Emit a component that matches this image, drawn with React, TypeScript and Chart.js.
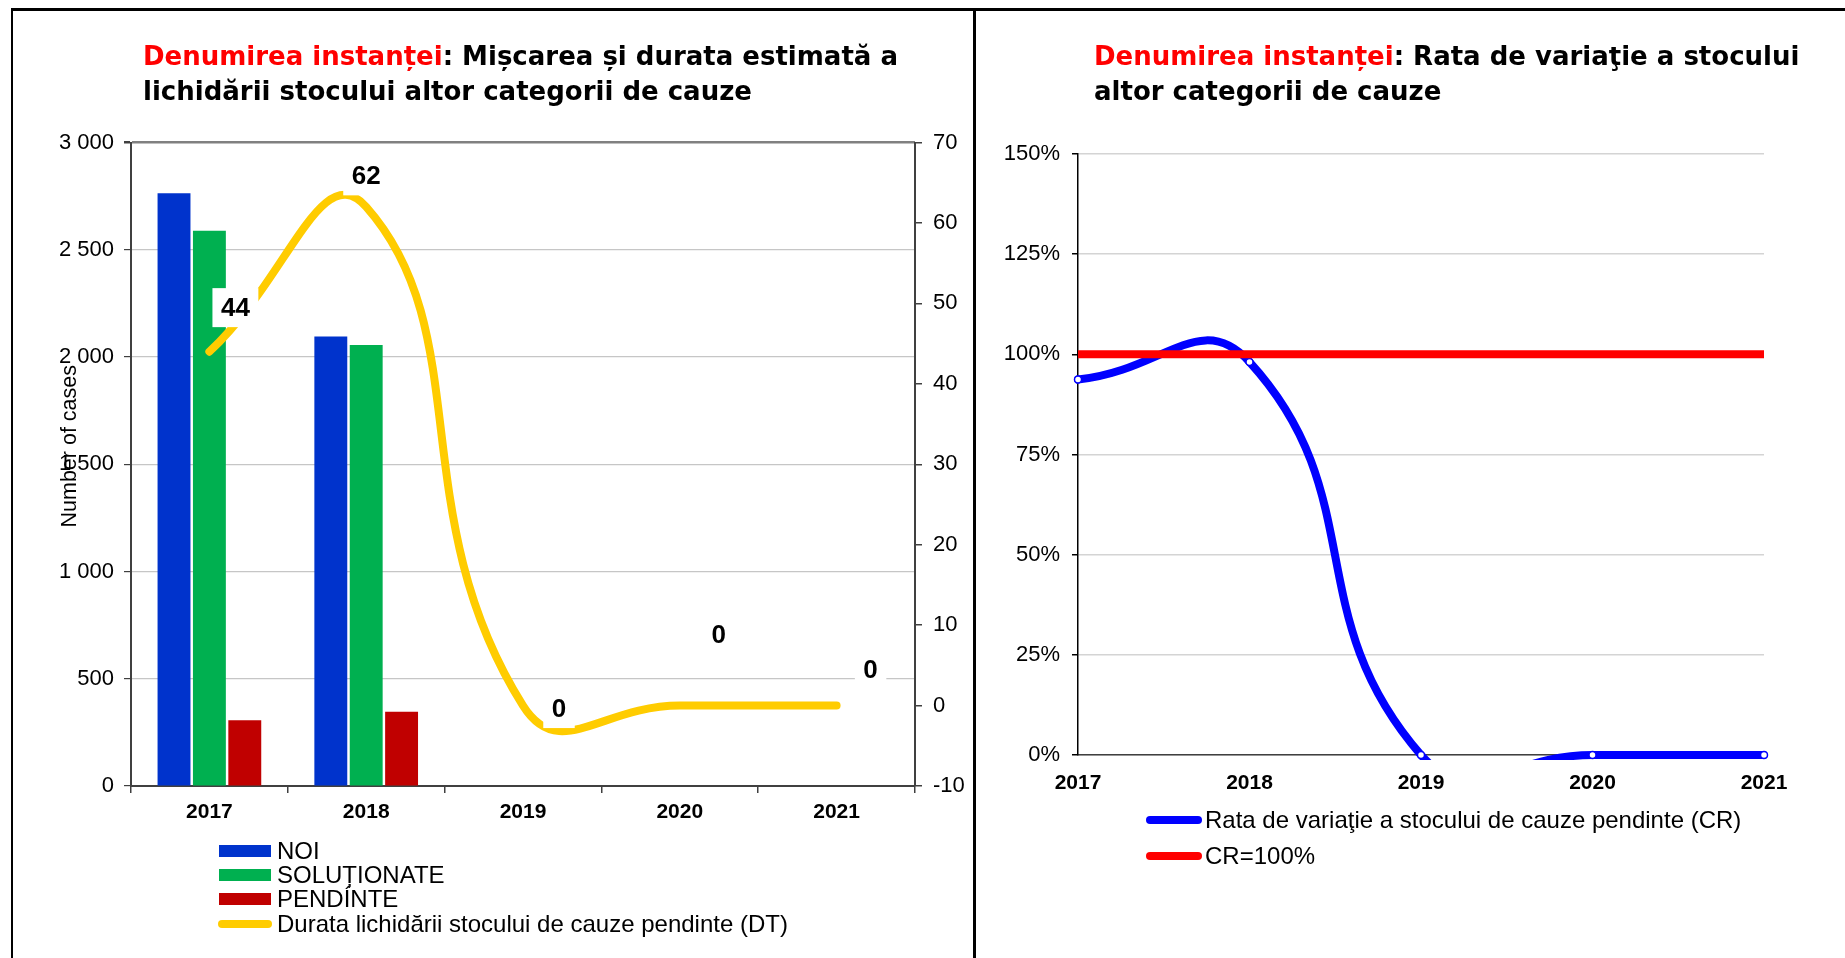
import React, { useEffect, useRef } from 'react';
import { Chart, registerables } from 'chart.js';

Chart.register(...registerables);

// ---------------- data ----------------
const years = ['2017', '2018', '2019', '2020', '2021'];
const noi = [2763, 2095, 0, 0, 0];
const solutionate = [2588, 2056, 0, 0, 0];
const pendinte = [307, 346, 0, 0, 0];
const durata = [44, 62, 0, 0, 0];
const rataVariatie = [93.7, 98.1, 0, 0, 0];
const crReference = [100, 100, 100, 100, 100];

const seriesNames = ['NOI', 'SOLUȚIONATE', 'PENDÍNTE', 'Durata lichidării stocului de cauze pendinte (DT)'];
const rightSeriesNames = ['Rata de variaţie a stocului de cauze pendinte (CR)', 'CR=100%'];

// label placement (offsets from the point, px) – styling only
const durataLabelOffsets = [[26, -44], [0, -31], [36, 3], [39, -71], [34, -36]];

const FONT = '"Liberation Sans", Arial, Helvetica, sans-serif';
Chart.defaults.font.family = FONT;
Chart.defaults.color = '#000';

const spaced = (v: number) => String(v).replace(/\B(?=(\d{3})+(?!\d))/g, ' ');

const dtLabelsPlugin = {
  id: 'dtLabels',
  afterDatasetsDraw(chart: any) {
    const meta = chart.getDatasetMeta(3);
    const ctx = chart.ctx;
    ctx.save();
    ctx.font = `bold 26px ${FONT}`;
    ctx.textAlign = 'center';
    ctx.textBaseline = 'middle';
    meta.data.forEach((pt: any, i: number) => {
      const [dx, dy] = durataLabelOffsets[i];
      const x = pt.x + dx;
      const y = pt.y + dy;
      const text = String(durata[i]);
      const w = ctx.measureText(text).width + 17;
      const h = 39;
      ctx.fillStyle = '#ffffff';
      ctx.fillRect(x - w / 2, y - h / 2, w, h);
      ctx.fillStyle = '#000';
      ctx.fillText(text, x, y + 1);
    });
    ctx.restore();
  },
};

const yTitlePlugin = {
  id: 'yTitle',
  afterDraw(chart: any) {
    const ctx = chart.ctx;
    const a = chart.chartArea;
    ctx.save();
    ctx.translate(70, (a.top + a.bottom) / 2 - 18);
    ctx.rotate(-Math.PI / 2);
    ctx.font = `21.5px ${FONT}`;
    ctx.fillStyle = '#000';
    ctx.textAlign = 'center';
    ctx.textBaseline = 'middle';
    ctx.fillText('Number of cases', 0, 0);
    ctx.restore();
  },
};

const LeftChart: React.FC = () => {
  const ref = useRef<HTMLCanvasElement>(null);
  useEffect(() => {
    if (!ref.current) return;
    const chart = new Chart(ref.current, {
      type: 'bar',
      data: {
        labels: years,
        datasets: [
          { type: 'bar', label: seriesNames[0], data: noi, backgroundColor: '#0033CC', yAxisID: 'y', order: 1 },
          { type: 'bar', label: seriesNames[1], data: solutionate, backgroundColor: '#00B050', yAxisID: 'y', order: 1 },
          { type: 'bar', label: seriesNames[2], data: pendinte, backgroundColor: '#C00000', yAxisID: 'y', order: 1 },
          {
            type: 'line', label: seriesNames[3], data: durata, yAxisID: 'y1', order: 0,
            borderColor: '#FFCC00', borderWidth: 8, tension: 0.5, pointRadius: 0,
            borderCapStyle: 'round', borderJoinStyle: 'round', fill: false,
          },
        ] as any,
      },
      options: {
        responsive: false,
        animation: false,
        categoryPercentage: 0.677,
        barPercentage: 0.93,
        layout: { padding: { top: 142.5, left: 0, right: 0, bottom: 0 } },
        plugins: { legend: { display: false }, tooltip: { enabled: false }, title: { display: false } },
        scales: {
          x: {
            offset: true,
            grid: { display: true, drawOnChartArea: false, drawTicks: true, tickLength: 7, tickColor: '#404040', lineWidth: 1.5, offset: true },
            border: { display: true, color: '#404040', width: 2 },
            ticks: { color: '#000', font: { size: 21, weight: 'bold' }, padding: 7 },
            afterFit: (s: any) => { s.height = 172; },
          },
          y: {
            position: 'left', min: 0, max: 3000,
            ticks: { stepSize: 500, color: '#000', font: { size: 22 }, padding: 10, callback: (v: any) => spaced(Number(v)) },
            grid: {
              color: (c: any) => (c.tick && c.tick.value === 3000 ? '#808080' : '#c6c6c6'),
              lineWidth: (c: any) => (c.tick && c.tick.value === 3000 ? 2.5 : 1.2),
              tickLength: 7, tickColor: '#404040',
            },
            border: { display: true, color: '#404040', width: 2 },
            afterFit: (s: any) => { s.width = 131; },
          },
          y1: {
            position: 'right', min: -10, max: 70,
            ticks: { stepSize: 10, color: '#000', font: { size: 22 }, padding: 11 },
            grid: { drawOnChartArea: false, tickLength: 7, tickColor: '#404040', lineWidth: 1.5 },
            border: { display: true, color: '#404040', width: 2 },
            afterFit: (s: any) => { s.width = 58; },
          },
        },
      } as any,
      plugins: [dtLabelsPlugin, yTitlePlugin],
    });
    return () => chart.destroy();
  }, []);
  return <canvas ref={ref} width={973} height={958} style={{ position: 'absolute', left: 0, top: 0, width: 973, height: 958 }} />;
};

const RightChart: React.FC = () => {
  const ref = useRef<HTMLCanvasElement>(null);
  useEffect(() => {
    if (!ref.current) return;
    const chart = new Chart(ref.current, {
      type: 'line',
      data: {
        labels: years,
        datasets: [
          {
            label: rightSeriesNames[0], data: rataVariatie, order: 1,
            borderColor: '#0000FF', borderWidth: 8, tension: 0.5, capBezierPoints: false,
            pointRadius: 3.5, pointBackgroundColor: '#ffffff', pointBorderColor: '#0000FF', pointBorderWidth: 1.5,
            borderCapStyle: 'round', clip: 5, fill: false,
          },
          {
            label: rightSeriesNames[1], data: crReference, order: 0,
            borderColor: '#FF0000', borderWidth: 8, tension: 0, pointRadius: 0, fill: false,
          },
        ],
      },
      options: {
        responsive: false,
        animation: false,
        elements: { line: { capBezierPoints: false } },
        layout: { padding: { top: 154, left: 0, right: 81, bottom: 0 } },
        plugins: { legend: { display: false }, tooltip: { enabled: false }, title: { display: false } },
        scales: {
          x: {
            offset: false,
            grid: { display: false },
            border: { display: true, color: '#404040', width: 1.5 },
            ticks: { color: '#000', font: { size: 21, weight: 'bold' }, padding: 8, maxRotation: 0 },
            afterFit: (s: any) => { s.height = 203; },
          },
          y: {
            min: 0, max: 150,
            ticks: { stepSize: 25, color: '#000', font: { size: 22 }, padding: 12, callback: (v: any) => `${v}%` },
            grid: { color: '#d4d4d4', lineWidth: 1.5, tickLength: 6, tickColor: '#000' },
            border: { display: true, color: '#000', width: 1.5 },
            afterFit: (s: any) => { s.width = 102; },
          },
        },
      } as any,
    });
    return () => chart.destroy();
  }, []);
  return <canvas ref={ref} width={869} height={958} style={{ position: 'absolute', left: 976, top: 0, width: 869, height: 958 }} />;
};

const titleStyle: React.CSSProperties = {
  position: 'absolute',
  fontFamily: '"DejaVu Sans", sans-serif',
  fontWeight: 'bold',
  fontSize: 26,
  lineHeight: '35px',
  color: '#000',
  whiteSpace: 'nowrap',
};

const legendText: React.CSSProperties = {
  position: 'absolute',
  fontFamily: FONT,
  fontSize: 24,
  lineHeight: '26px',
  color: '#000',
  whiteSpace: 'nowrap',
};

export default function App() {
  const leftColors = ['#0033CC', '#00B050', '#C00000'];
  const leftY = [850.5, 874.5, 899, 923.5];
  const rightY = [820, 856];
  const rightColors = ['#0000FF', '#FF0000'];
  return (
    <div style={{ position: 'absolute', left: 0, top: 0, width: 1845, height: 958, background: '#fff', overflow: 'hidden' }}>
      <LeftChart />
      <RightChart />
      {/* frame lines */}
      <div style={{ position: 'absolute', left: 11, top: 8, width: 1834, height: 2.5, background: '#000' }} />
      <div style={{ position: 'absolute', left: 11, top: 8, width: 2, height: 950, background: '#000' }} />
      <div style={{ position: 'absolute', left: 973, top: 8, width: 2.5, height: 950, background: '#000' }} />
      {/* titles */}
      <div style={{ ...titleStyle, left: 143, top: 39 }}>
        <span style={{ color: '#FF0000' }}>Denumirea instanței</span>: Mișcarea și durata estimată a<br />
        lichidării stocului altor categorii de cauze
      </div>
      <div style={{ ...titleStyle, left: 1094, top: 39 }}>
        <span style={{ color: '#FF0000' }}>Denumirea instanței</span>: Rata de variaţie a stocului<br />
        altor categorii de cauze
      </div>
      {/* left legend */}
      {seriesNames.map((name, i) => (
        <React.Fragment key={name}>
          {i < 3 ? (
            <div style={{ position: 'absolute', left: 219, top: leftY[i] - 6, width: 52, height: 12, background: leftColors[i] }} />
          ) : (
            <div style={{ position: 'absolute', left: 218, top: leftY[i] - 4, width: 54, height: 8, borderRadius: 4, background: '#FFCC00' }} />
          )}
          <div style={{ ...legendText, left: 277, top: leftY[i] - 13 }}>{name}</div>
        </React.Fragment>
      ))}
      {/* right legend */}
      {rightSeriesNames.map((name, i) => (
        <React.Fragment key={name}>
          <div style={{ position: 'absolute', left: 1146, top: rightY[i] - 4, width: 56, height: 8, borderRadius: 4, background: rightColors[i] }} />
          <div style={{ ...legendText, left: 1205, top: rightY[i] - 13 }}>{name}</div>
        </React.Fragment>
      ))}
    </div>
  );
}
